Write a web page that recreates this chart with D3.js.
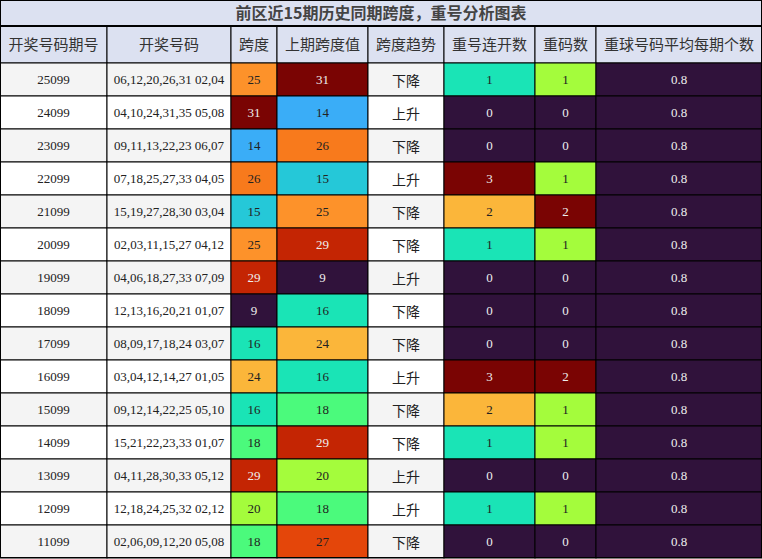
<!DOCTYPE html>
<html><head><meta charset="utf-8">
<script src="https://cdn.jsdelivr.net/npm/d3@7"></script>
<style>body{margin:0;background:#fff}</style>
</head><body><svg id="c" width="762" height="559"></svg>
<script>
// table data
const periods = ["25099","24099","23099","22099","21099","20099","19099","18099","17099","16099","15099","14099","13099","12099","11099"]
const draws = ["06,12,20,26,31 02,04","04,10,24,31,35 05,08","09,11,13,22,23 06,07","07,18,25,27,33 04,05","15,19,27,28,30 03,04","02,03,11,15,27 04,12","04,06,18,27,33 07,09","12,13,16,20,21 01,07","08,09,17,18,24 03,07","03,04,12,14,27 01,05","09,12,14,22,25 05,10","15,21,22,23,33 01,07","04,11,28,30,33 05,12","12,18,24,25,32 02,12","02,06,09,12,20 05,08"]
const span = [25,31,14,26,15,25,29,9,16,24,16,18,29,20,18]
const prevSpan = [31,14,26,15,25,29,9,16,24,16,18,29,20,18,27]
const trend = ["下降","上升","下降","上升","下降","下降","上升","下降","下降","上升","下降","下降","上升","上升","下降"]
const repeatRun = [1,0,0,3,2,1,0,0,0,3,2,1,0,1,0]
const repeatCnt = [1,0,0,1,2,1,0,0,0,2,1,1,0,1,0]
const avgRepeat = Array(15).fill(0.8)
const headers = ["开奖号码期号","开奖号码","跨度","上期跨度值","跨度趋势","重号连开数","重码数","重球号码平均每期个数"]
const colEdges = [0,107,231,277,368,444,535,596,762]

const svg = d3.select("#c")
const W = 762, titleH = 26, headH = 37
const y = d3.scaleBand().domain(d3.range(15)).range([63, 558])
const dark = "#30123b"
const spanColor = d3.scaleOrdinal()
	.domain([9,14,15,16,18,20,24,25,26,27,29,31])
	.range([dark,"#3aadf7","#25c8d8","#1ae4b6","#4bfa7c","#a4fc3c","#fbb63a","#fd922a","#f87a1c","#e4460a","#c42503","#7a0403"])
const runColor = d3.scaleOrdinal().domain([0,1,2,3]).range([dark,"#1ae4b6","#fbb63a","#7a0403"])
const cntColor = d3.scaleOrdinal().domain([0,1,2]).range([dark,"#a4fc3c","#7a0403"])
const light = c => d3.hsl(c).l > 0.45

// title
svg.append("rect").attr("x",0).attr("y",0).attr("width",W).attr("height",titleH).attr("fill","#dce1f1")
svg.append("text").attr("x",W/2).attr("y",19).attr("text-anchor","middle")
	.attr("font-family","'Noto Sans CJK SC',sans-serif").attr("font-weight","bold").attr("font-size",16).attr("fill","#444")
	.text("前区近15期历史同期跨度，重号分析图表")

// header
headers.forEach(function(h, i){
	svg.append("rect").attr("x",colEdges[i]).attr("y",titleH).attr("width",colEdges[i+1]-colEdges[i]).attr("height",headH)
		.attr("fill","#dce1f1").attr("stroke","#000")
	svg.append("text").attr("x",(colEdges[i]+colEdges[i+1])/2).attr("y",titleH+headH/2+5).attr("text-anchor","middle")
		.attr("font-family","'Noto Sans CJK SC',sans-serif").attr("font-size",15).attr("fill","#333").text(h)
})

const cols = [
	{v: periods, fill: (d,r) => r%2 ? "#fff" : "#f4f4f4", serif: true},
	{v: draws, fill: (d,r) => r%2 ? "#fff" : "#f4f4f4", serif: true},
	{v: span, fill: d => spanColor(d), serif: true},
	{v: prevSpan, fill: d => spanColor(d), serif: true},
	{v: trend, fill: (d,r) => r%2 ? "#fff" : "#f4f4f4", serif: false},
	{v: repeatRun, fill: d => runColor(d), serif: true},
	{v: repeatCnt, fill: d => cntColor(d), serif: true},
	{v: avgRepeat, fill: () => dark, serif: true}
]

cols.forEach(function(col, i){
	const g = svg.append("g")
	const cells = g.selectAll("g").data(col.v).join("g")
	cells.append("rect").attr("x",colEdges[i]).attr("y",(d,r)=>y(r))
		.attr("width",colEdges[i+1]-colEdges[i]).attr("height",y.bandwidth())
		.attr("fill",(d,r)=>col.fill(d,r)).attr("stroke","#000")
	cells.append("text").attr("x",(colEdges[i]+colEdges[i+1])/2).attr("y",(d,r)=>y(r)+y.bandwidth()/2+(col.serif?4.5:6))
		.attr("text-anchor","middle")
		.attr("font-family", col.serif ? "'Liberation Serif',serif" : "'Noto Sans CJK SC',sans-serif")
		.attr("font-size", col.serif ? 13 : 14)
		.attr("fill",(d,r)=> light(col.fill(d,r)) ? "#222" : "#eee")
		.text(d => d)
})
svg.append("line").attr("x1",0).attr("x2",W).attr("y1",titleH).attr("y2",titleH).attr("stroke","#000").attr("stroke-width",2)
svg.append("rect").attr("x",0.5).attr("y",0.5).attr("width",W-1).attr("height",557).attr("fill","none").attr("stroke","#000")
</script></body></html>
